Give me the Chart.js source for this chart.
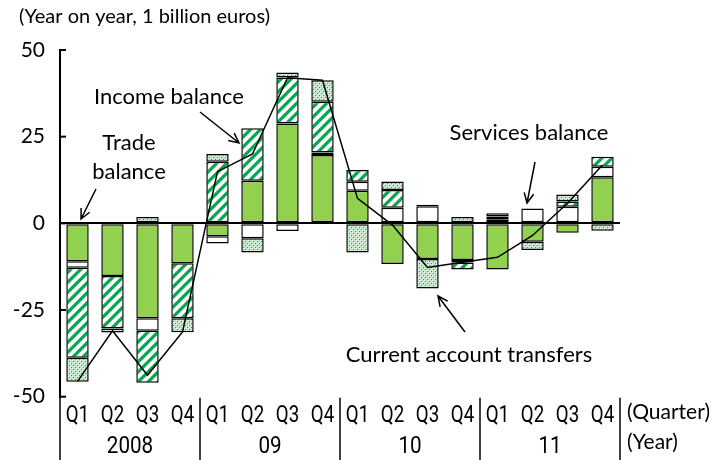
<!DOCTYPE html>
<html>
<head>
<meta charset="utf-8">
<script src="https://cdn.jsdelivr.net/npm/chart.js@4.4.0/dist/chart.umd.min.js"></script>
<style>
    html, body { margin: 0; padding: 0; background: #fff; }
</style>
</head>
<body>
<canvas id="bar-chartcanvas" width="717" height="460"></canvas>
<script>
// values (1 billion euros, year on year), null = no segment
var quarters = ["Q1", "Q2", "Q3", "Q4", "Q1", "Q2", "Q3", "Q4",
                "Q1", "Q2", "Q3", "Q4", "Q1", "Q2", "Q3", "Q4"];
var years = ["2008", "09", "10", "11"];
var trade     = [-10.9, -15.2, -27.4, -11.5, -3.7, 12.3, 28.8, 19.7, 9.4, -11.7, -10.3, -10.6, -13.3, -5.3, -2.7, 13.3];
var services  = [-1.9, null, -3.6, 0.3, -2.1, -4.3, -2.2, 0.7, 2.6, 4.5, 4.9, -0.7, 1.2, 4.3, 4.8, 3.0];
var income    = [-26.0, -15.1, -15.0, -15.9, 17.8, 15.1, 13.3, 14.7, 3.4, 5.1, 0.5, -2.0, 0.8, null, 1.5, 2.9];
var transfers = [-6.9, -1.2, 1.8, -4.0, 2.2, -4.1, 1.4, 6.2, -8.4, 2.5, -8.5, 1.8, 0.9, -2.4, 2.0, -2.1];
var currentAccount = [-45.6, -31.0, -43.8, -31.3, 14.9, 20.0, 42.0, 41.3, 7.2, -0.5, -12.7, -11.2, -9.8, -3.5, 5.8, 16.8];
var yTicks = [-50, -25, 0, 25, 50];

var textFont = "Lato, 'Open Sans', sans-serif";
var labelFont = "Roboto, 'DejaVu Sans', sans-serif";

var canvas = document.getElementById("bar-chartcanvas");
var ctx = canvas.getContext("2d");

//patterns for income and transfers
function hatchPattern() {
    var c = document.createElement("canvas");
    c.width = 10; c.height = 10;
    var g = c.getContext("2d");
    g.fillStyle = "#fff";
    g.fillRect(0, 0, 10, 10);
    g.strokeStyle = "#00a84f";
    g.lineWidth = 3.2;
    g.beginPath();
    g.moveTo(-5, 5); g.lineTo(5, -5);
    g.moveTo(0, 10); g.lineTo(10, 0);
    g.moveTo(5, 15); g.lineTo(15, 5);
    g.stroke();
    return ctx.createPattern(c, "repeat");
}

function dotPattern() {
    var c = document.createElement("canvas");
    c.width = 4; c.height = 4;
    var g = c.getContext("2d");
    g.fillStyle = "#bfe8c9";
    g.fillRect(0, 0, 4, 4);
    g.fillStyle = "#f4fbf5";
    g.fillRect(0, 0, 1, 1);
    g.fillRect(2, 2, 1, 1);
    g.fillStyle = "#1faa55";
    g.fillRect(1, 1, 1, 1);
    g.fillRect(3, 3, 1, 1);
    return ctx.createPattern(c, "repeat");
}

function arrow(g, x1, y1, x2, y2) {
    var a = Math.atan2(y2 - y1, x2 - x1);
    var h = 11;
    g.beginPath();
    g.moveTo(x1, y1);
    g.lineTo(x2, y2);
    g.moveTo(x2 - h * Math.cos(a - 0.45), y2 - h * Math.sin(a - 0.45));
    g.lineTo(x2, y2);
    g.lineTo(x2 - h * Math.cos(a + 0.45), y2 - h * Math.sin(a + 0.45));
    g.stroke();
}

// narrow label text, like the original's half-width glyphs
function narrowText(g, s, cx, cy, sx) {
    g.save();
    g.translate(cx, cy);
    g.scale(sx, 1);
    g.fillText(s, 0, 0);
    g.restore();
}

var extras = {
    id: "extras",
    afterDraw: function (chart) {
        var g = chart.ctx;
        var x = chart.scales.x;
        var y = chart.scales.y;
        var area = chart.chartArea;
        g.save();
        g.strokeStyle = "#000";
        g.fillStyle = "#000";

        // inward ticks on the value axis
        g.lineWidth = 2;
        yTicks.forEach(function (v) {
            var py = y.getPixelForValue(v);
            g.beginPath();
            g.moveTo(area.left, py);
            g.lineTo(area.left + 6, py);
            g.stroke();
        });

        // quarter labels from the category scale
        g.font = "24px " + labelFont;
        g.textAlign = "center";
        g.textBaseline = "middle";
        x.getLabels().forEach(function (lab, i) {
            narrowText(g, lab, x.getPixelForTick(i), 416, 0.78);
        });

        // year separators and year labels
        g.lineWidth = 1.5;
        for (var i = 0; i <= years.length; i++) {
            var sx = i === 0 ? area.left : (i === years.length ? area.right :
                (x.getPixelForValue(i * 4 - 1) + x.getPixelForValue(i * 4)) / 2);
            g.beginPath();
            g.moveTo(sx, i === 0 ? area.bottom : area.bottom + 1);
            g.lineTo(sx, chart.height);
            g.stroke();
            if (i < years.length) {
                var cx = (x.getPixelForValue(i * 4) + x.getPixelForValue(i * 4 + 3)) / 2;
                narrowText(g, years[i], cx, 447, 0.86);
            }
        }

        g.textAlign = "left";
        g.font = "21px " + textFont;
        g.fillText("(Quarter)", 627, 412);
        g.fillText("(Year)", 627, 442);
        g.font = "20px " + textFont;
        g.fillText("(Year on year, 1 billion euros)", 19, 17);

        // annotations
        g.font = "22px " + textFont;
        g.textAlign = "center";
        g.fillText("Trade", 129, 143);
        g.fillText("balance", 129, 172);
        g.fillText("Income balance", 169, 97);
        g.fillText("Services balance", 529, 133);
        g.fillText("Current account transfers", 469, 355);

        g.lineWidth = 1.5;
        arrow(g, 96, 189, 81, 219);
        arrow(g, 200, 112, 239, 143);
        arrow(g, 535, 162, 527, 203);
        arrow(g, 465, 332, 438, 296);
        g.restore();
    }
};

var barStyle = {
    borderColor: "#000",
    borderWidth: 1.5,
    borderSkipped: false,
    barPercentage: 0.64,
    categoryPercentage: 1,
    order: 1
};

var chartData = {
    labels: quarters,
    datasets: [
        Object.assign({ label: "Trade balance", data: trade, backgroundColor: "#92d050" }, barStyle),
        Object.assign({ label: "Services balance", data: services, backgroundColor: "#fff" }, barStyle),
        Object.assign({ label: "Income balance", data: income, backgroundColor: hatchPattern() }, barStyle),
        Object.assign({ label: "Current account transfers", data: transfers, backgroundColor: dotPattern() }, barStyle),
        {
            type: "line",
            label: "Current account",
            data: currentAccount,
            borderColor: "#000",
            borderWidth: 1.5,
            pointRadius: 0,
            tension: 0,
            fill: false,
            stack: "total",
            order: 0
        }
    ]
};

var options = {
    responsive: false,
    animation: false,
    devicePixelRatio: 1,
    layout: { padding: { top: 50, right: 97, left: 0, bottom: 0 } },
    plugins: {
        legend: { display: false },
        tooltip: { enabled: false }
    },
    scales: {
        x: {
            stacked: true,
            grid: { display: false },
            border: { display: false },
            ticks: { display: false, autoSkip: false },
            afterFit: function (scale) { scale.height = 63.3; }
        },
        y: {
            stacked: true,
            min: -50,
            max: 50,
            afterBuildTicks: function (axis) {
                axis.ticks = yTicks.map(function (v) { return { value: v }; });
            },
            ticks: {
                color: "#000",
                font: { family: textFont, size: 21 },
                padding: 15
            },
            grid: {
                drawTicks: false,
                lineWidth: 2,
                color: function (c) {
                    return c.tick && c.tick.value === 0 ? "#000" : "rgba(0,0,0,0)";
                }
            },
            border: { color: "#000", width: 2 },
            afterFit: function (scale) { scale.width = 60; }
        }
    }
};

var chart = new Chart(ctx, {
    type: "bar",
    data: chartData,
    options: options,
    plugins: [extras]
});
</script>
</body>
</html>
